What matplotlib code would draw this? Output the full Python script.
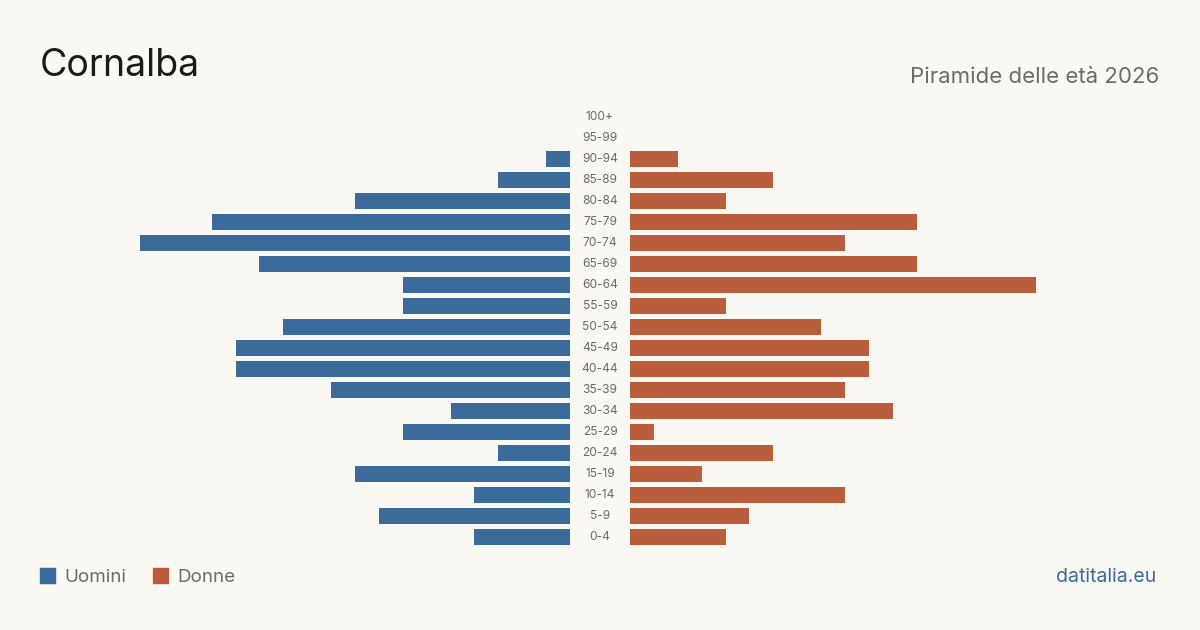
import matplotlib
matplotlib.use("Agg")
import matplotlib.pyplot as plt
from matplotlib.patches import Rectangle

plt.rcParams['font.family'] = ['Inter', 'DejaVu Sans']

age_groups = ["0-4", "5-9", "10-14", "15-19", "20-24", "25-29", "30-34", "35-39",
              "40-44", "45-49", "50-54", "55-59", "60-64", "65-69", "70-74", "75-79",
              "80-84", "85-89", "90-94", "95-99", "100+"]
men = [4, 8, 4, 9, 3, 7, 5, 10, 14, 14, 12, 7, 7, 13, 18, 15, 9, 3, 1, 0, 0]
women = [4, 5, 9, 3, 6, 1, 11, 9, 10, 10, 8, 4, 17, 12, 9, 12, 4, 6, 2, 0, 0]

BG = "#f9f8f3"
BLUE = "#3a6b9b"
ORANGE = "#b95d3d"
W, H = 1200, 630

fig = plt.figure(figsize=(12, 6.3), dpi=100, facecolor=BG)

def px_axes(x0, y0, x1, y1):
    return fig.add_axes([x0 / W, 1 - y1 / H, (x1 - x0) / W, (y1 - y0) / H])

ymin, ymax = 117 - 10.5, 537 + 10.5
axL = px_axes(140, ymin, 570, ymax)
axR = px_axes(630, ymin, 1060, ymax)
ypos = list(range(len(age_groups)))
for ax in (axL, axR):
    ax.set_facecolor("none")
    ax.set_ylim(-0.5, len(age_groups) - 0.5)
    ax.axis("off")
axL.barh(ypos, men, height=0.8, color=BLUE)
axR.barh(ypos, women, height=0.8, color=ORANGE)
axL.set_xlim(18, 0)
axR.set_xlim(0, 18)

for i, lab in enumerate(age_groups):
    y = 537 - i * 21
    fig.text(600 / W, 1 - y / H, lab, ha="center", va="center", fontsize=8.6, color="#6b6b6b")

fig.text(40 / W, 1 - 66 / H, "Cornalba", fontsize=27, color="#1a1a1a", va="center", ha="left")
fig.text(1159 / W, 1 - 77 / H, "Piramide delle età 2026", fontsize=16, color="#6b6b6b",
         va="center", ha="right")

fig.patches.append(Rectangle((40 / W, 1 - 583 / H), 15 / W, 15 / H, transform=fig.transFigure,
                             color=BLUE, figure=fig))
fig.text(64 / W, 1 - 577 / H, "Uomini", fontsize=13.5, color="#6b6b6b", va="center", ha="left")
fig.patches.append(Rectangle((153 / W, 1 - 583 / H), 15 / W, 15 / H, transform=fig.transFigure,
                             color=ORANGE, figure=fig))
fig.text(177 / W, 1 - 577 / H, "Donne", fontsize=13.5, color="#6b6b6b", va="center", ha="left")
fig.text(1156 / W, 1 - 577 / H, "datitalia.eu", fontsize=14, color=BLUE, va="center", ha="right")

fig.savefig("out.png", dpi=100, facecolor=BG)
